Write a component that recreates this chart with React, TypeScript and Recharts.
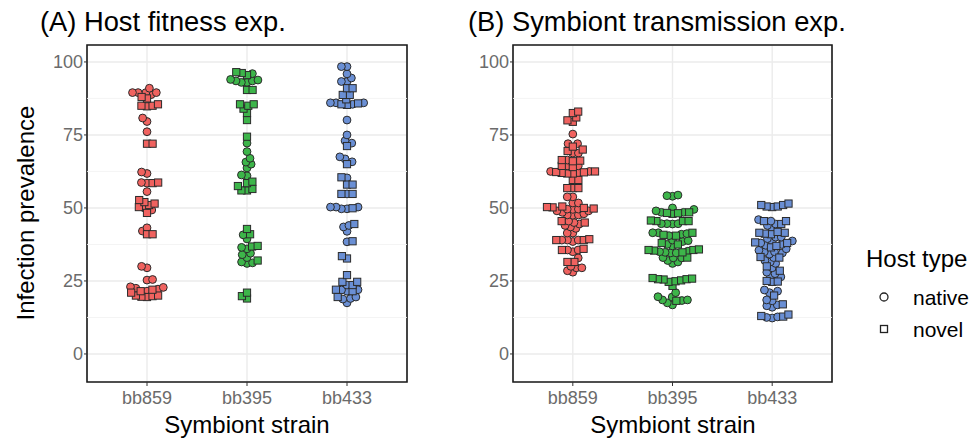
import React from 'react';
import { ScatterChart, Scatter, XAxis, YAxis, CartesianGrid, ReferenceLine, ReferenceArea } from 'recharts';

const strains = ['bb859', 'bb395', 'bb433'];
const strainColors = ['#F0625F', '#3DB54A', '#6A8FD4'];
const yTicks = [0, 25, 50, 75, 100];
const yMinor = [12.5, 37.5, 62.5, 87.5];
const xTicks = [1, 2, 3];

// (A) Host fitness experiment
const fitness_bb859_native = [91, 89.5, 89.5, 89.5, 89.5, 88.8, 80.8, 79.6, 76.1, 61.8, 62.3, 58.7, 58.5, 55.6, 50, 49.3, 43.2, 42.1, 30, 29.5, 25.3, 25.5, 22.5, 23, 22.8, 22.2, 21.5];
const fitness_bb859_novel = [88, 87.5, 85.5, 85, 85, 84.8, 72, 72, 58.7, 58.5, 52.7, 51, 51.5, 52, 50.3, 48.3, 41, 41, 22, 21.5, 20, 19.5, 20, 19.8, 19.6, 21];
const fitness_bb395_native = [96, 93.8, 93.5, 93, 93, 93.5, 94, 72.2, 69.3, 67, 65.7, 65, 63.7, 61.3, 61, 40.8, 39.4, 36.5, 36, 34.5, 34, 33, 31.2, 31, 31.5];
const fitness_bb395_novel = [96.5, 96.2, 95.5, 90.4, 90.4, 85.5, 85.5, 85, 84, 82.5, 80.1, 74.4, 59, 58.5, 57.5, 56.5, 56, 56, 42.8, 41, 36.8, 37, 32, 21, 19.8, 19];
const fitness_bb433_native = [98.4, 98.4, 95.9, 94.5, 93.3, 93.3, 86, 86, 86, 85.5, 80.1, 75, 73, 72.2, 67.5, 66.8, 65.8, 60.3, 54.8, 50.3, 50.3, 50.3, 49.7, 49.7, 44, 43.5, 42, 38.4, 23.6, 21.9, 22, 21.5, 19.5, 19, 18.8, 17.5];
const fitness_bb433_novel = [91, 91, 88.7, 88.7, 87.2, 85.8, 85.3, 85.5, 71.2, 65, 60.5, 58, 58, 54.8, 54.8, 49.9, 44.5, 38.6, 33.5, 32.7, 27, 24.7, 24.7, 23.6, 22, 19.5, 21.5];

// (B) Symbiont transmission experiment
const transmission_bb859_native = [75.3, 72, 72, 68.8, 68.8, 66.4, 64.4, 64.4, 62.5, 62.5, 62, 53.8, 53.8, 51.7, 51.7, 49.6, 49.6, 49.5, 49, 49, 48.5, 48, 47.6, 47.6, 47.5, 45.5, 45, 44.5, 44, 43.5, 43, 41.4, 41.4, 39, 39, 39, 38.5, 35.6, 35.6, 35, 32.9, 29.5, 29.5, 28.5, 28, 30];
const transmission_bb859_novel = [83, 82.5, 81, 80, 79.5, 71, 70, 69.5, 66.4, 66, 66.2, 64.4, 64, 62.5, 62.3, 62.2, 62, 61.8, 61.8, 59.6, 59.6, 56.8, 56.8, 56.8, 50.5, 50, 50.3, 50.2, 49.8, 45.5, 45, 39.3, 39, 39, 36, 35.6, 31.5, 31.5];
const transmission_bb395_native = [54.4, 54.2, 54, 50, 49.5, 48.5, 49, 48.5, 44.6, 44.6, 44.5, 44.6, 41.5, 41.2, 40.5, 41.5, 41, 39, 38.5, 38.8, 37.5, 37, 34.6, 34.8, 35, 35.2, 34.6, 32.9, 33, 32, 31.5, 31, 32.9, 21, 19.6, 19.5, 18.5, 18.5, 18.3, 17.5, 16.8];
const transmission_bb395_novel = [48.5, 48.3, 48, 48.2, 45.5, 45.5, 45.7, 45.5, 40.5, 41.5, 40.8, 38, 37.5, 35.6, 35.8, 35.6, 35.4, 34.8, 33, 25.6, 25.5, 25.8, 26, 25.6, 25.2, 24.9, 24.7, 23.3, 18.2];
const transmission_bb433_native = [46, 45.5, 44.5, 44, 43, 40, 40, 39.5, 38.7, 38.5, 38, 37.5, 37.2, 36, 35.5, 35, 35, 34.6, 34.2, 33, 32, 31.5, 31, 29.5, 28, 27.5, 26.4, 26.5, 21.9, 21.5, 21, 18.5, 18.2, 16.8, 16.5, 16, 12.7, 12.5, 12.3];
const transmission_bb433_novel = [51.5, 51, 50.5, 50.3, 50.5, 51, 45.5, 45.5, 44.5, 41.5, 41.5, 41, 41.2, 41.8, 38.2, 38, 37, 36.5, 33, 33.2, 30, 28.5, 24.7, 25, 24.8, 20, 17, 13, 13.5, 12.8];

const fitnessGroups = [
  { native: fitness_bb859_native, novel: fitness_bb859_novel },
  { native: fitness_bb395_native, novel: fitness_bb395_novel },
  { native: fitness_bb433_native, novel: fitness_bb433_novel },
];
const transmissionGroups = [
  { native: transmission_bb859_native, novel: transmission_bb859_novel },
  { native: transmission_bb395_native, novel: transmission_bb395_novel },
  { native: transmission_bb433_native, novel: transmission_bb433_novel },
];

const Y_DOMAIN = [-9.6, 105.8];
const X_DOMAIN = [0.4, 3.6];
const PLOT_H = 337;
const PLOT_W = 320;
const PX_Y = PLOT_H / (Y_DOMAIN[1] - Y_DOMAIN[0]);
const PX_X = PLOT_W / (X_DOMAIN[1] - X_DOMAIN[0]);
const DIAM = 5.6;

type Pt = { x: number; y: number };

// beeswarm layout (swarm method): points placed in ascending order, nearest free x offset
function swarm(native: number[], novel: number[], center: number) {
  const all = [
    ...native.map((v) => ({ v, shape: 'native' })),
    ...novel.map((v) => ({ v, shape: 'novel' })),
  ].sort((a, b) => a.v - b.v);
  const placed: { x: number; y: number }[] = [];
  const out: { native: Pt[]; novel: Pt[] } = { native: [], novel: [] };
  let lastSign = 1;
  for (const p of all) {
    const py = p.v * PX_Y;
    const near = placed.filter((q) => Math.abs(q.y - py) < DIAM);
    const cands = [0];
    for (const q of near) {
      const dx = Math.sqrt(DIAM * DIAM - (q.y - py) * (q.y - py));
      cands.push(q.x + dx, q.x - dx);
    }
    const valid = cands.filter((c) =>
      near.every((q) => (q.x - c) * (q.x - c) + (q.y - py) * (q.y - py) >= DIAM * DIAM - 1e-6)
    );
    let best = valid[0];
    for (const c of valid) {
      const d = Math.abs(c) - Math.abs(best);
      if (d < -1e-6) best = c;
      else if (Math.abs(d) <= 1e-6 && Math.sign(c) === -lastSign && c !== 0) best = c;
    }
    if (best !== 0) lastSign = Math.sign(best);
    placed.push({ x: best, y: py });
    out[p.shape as 'native' | 'novel'].push({ x: center + best / PX_X, y: p.v });
  }
  return out;
}

const circleShape = (fill: string) => (props: any) => (
  <circle cx={props.cx} cy={props.cy} r={3.9} fill={fill} stroke="#2b2b2b" strokeWidth={1} />
);
const squareShape = (fill: string) => (props: any) => (
  <rect x={props.cx - 3.6} y={props.cy - 3.6} width={7.2} height={7.2} fill={fill} stroke="#2b2b2b" strokeWidth={1} />
);

const font = 'Liberation Sans, Arial, Helvetica, sans-serif';
const tickStyle = { fill: '#6b6b6b', fontSize: 18, fontFamily: font };

function Panel({ groups, yAxisWidth, rightMargin, width }: any) {
  const laid = groups.map((g: any, i: number) => swarm(g.native, g.novel, i + 1));
  return (
    <ScatterChart width={width} height={439} margin={{ top: 45, right: rightMargin, bottom: 17, left: 0 }}>
      <CartesianGrid stroke="#EBEBEB" strokeWidth={1.4} />
      {yMinor.map((v) => (
        <ReferenceLine key={v} y={v} stroke="#F3F3F3" strokeWidth={0.9} />
      ))}
      <XAxis
        type="number"
        dataKey="x"
        domain={X_DOMAIN}
        ticks={xTicks}
        allowDataOverflow
        tickFormatter={(v: number) => strains[v - 1]}
        axisLine={false}
        tickLine={{ stroke: '#333' }}
        tickSize={4}
        tickMargin={5}
        height={40}
        tick={tickStyle}
      />
      <YAxis
        type="number"
        dataKey="y"
        domain={Y_DOMAIN}
        ticks={yTicks}
        allowDataOverflow
        axisLine={false}
        tickLine={{ stroke: '#333' }}
        tickSize={3}
        tickMargin={1}
        width={yAxisWidth}
        tick={tickStyle}
      />
      {laid.map((g: any, i: number) => (
        <Scatter key={'c' + i} data={g.native} shape={circleShape(strainColors[i])} isAnimationActive={false} />
      ))}
      {laid.map((g: any, i: number) => (
        <Scatter key={'s' + i} data={g.novel} shape={squareShape(strainColors[i])} isAnimationActive={false} />
      ))}
      <ReferenceArea
        x1={X_DOMAIN[0]}
        x2={X_DOMAIN[1]}
        y1={Y_DOMAIN[0]}
        y2={Y_DOMAIN[1]}
        fill="none"
        fillOpacity={0}
        stroke="#1a1a1a"
        strokeWidth={1.6}
      />
    </ScatterChart>
  );
}

export default function App() {
  return (
    <div style={{ position: 'absolute', left: 0, top: 0, width: 971, height: 439, background: '#fff', fontFamily: font }}>
      <div style={{ position: 'absolute', left: 0, top: 0 }}>
        <Panel groups={fitnessGroups} yAxisWidth={87} rightMargin={23} width={430} />
      </div>
      <div style={{ position: 'absolute', left: 430, top: 0 }}>
        <Panel groups={transmissionGroups} yAxisWidth={83} rightMargin={18} width={420} />
      </div>
      <svg width={971} height={439} style={{ position: 'absolute', left: 0, top: 0, pointerEvents: 'none' }}>
        <g fontFamily={font} fill="#000">
          <text x={40} y={21} fontSize={27.3} dominantBaseline="central">(A) Host fitness exp.</text>
          <text x={468} y={21} fontSize={27.3} dominantBaseline="central">(B) Symbiont transmission exp.</text>
          <text x={25} y={213} fontSize={24} textAnchor="middle" dominantBaseline="central" transform="rotate(-90 25 213)">Infection prevalence</text>
          <text x={247} y={424} fontSize={24} textAnchor="middle" dominantBaseline="central">Symbiont strain</text>
          <text x={673} y={424} fontSize={24} textAnchor="middle" dominantBaseline="central">Symbiont strain</text>
          <text x={866} y={258} fontSize={24} dominantBaseline="central">Host type</text>
          <circle cx={884} cy={297} r={4} fill="none" stroke="#222" strokeWidth={1.3} />
          <text x={913} y={297} fontSize={21} dominantBaseline="central">native</text>
          <rect x={880.5} y={325.5} width={7} height={7} fill="none" stroke="#222" strokeWidth={1.3} />
          <text x={913} y={329} fontSize={21} dominantBaseline="central">novel</text>
        </g>
      </svg>
    </div>
  );
}
